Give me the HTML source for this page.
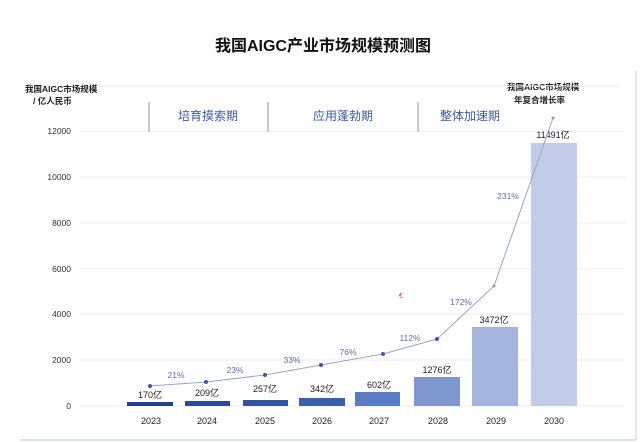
<!DOCTYPE html>
<html><head><meta charset="utf-8"><style>
body{margin:0;background:#fff;}
svg{display:block;font-family:"Liberation Sans","Noto Sans CJK SC",sans-serif;}
</style></head><body>
<svg width="640" height="442" viewBox="0 0 640 442">
<rect x="0" y="0" width="640" height="442" fill="#fff"/>
<line x1="636" y1="70" x2="636" y2="440" stroke="#e4e8f0" stroke-width="2"/>
<line x1="20" y1="440" x2="636" y2="440" stroke="#dde2ea" stroke-width="2"/>
<text x="323" y="51" font-size="16" font-weight="bold" text-anchor="middle" fill="#111">我国AIGC产业市场规模预测图</text>
<g font-size="8.5" font-weight="bold" fill="#222">
<text x="25" y="92">我国AIGC市场规模</text>
<text x="33" y="104">/ 亿人民币</text>
<text x="507" y="90">我国AIGC市场规模</text>
<text x="514" y="103">年复合增长率</text>
</g>
<g stroke="#eceef3" stroke-width="1">
<line x1="100" y1="86" x2="620" y2="86"/>
<line x1="80" y1="131" x2="625" y2="131"/>
<line x1="80" y1="177" x2="625" y2="177"/>
<line x1="80" y1="223" x2="625" y2="223"/>
<line x1="80" y1="269" x2="625" y2="269"/>
<line x1="80" y1="314" x2="625" y2="314"/>
<line x1="80" y1="360" x2="625" y2="360"/>
<line x1="80" y1="406" x2="625" y2="406"/>
</g>
<g stroke="#8a93a8" stroke-width="1">
<line x1="149" y1="102" x2="149" y2="132"/>
<line x1="268" y1="102" x2="268" y2="132"/>
<line x1="418" y1="102" x2="418" y2="132"/>
</g>
<g font-size="12" fill="#3d5a9c" text-anchor="middle">
<text x="208" y="120">培育摸索期</text>
<text x="343" y="120">应用蓬勃期</text>
<text x="470" y="120">整体加速期</text>
</g>
<g font-size="8.5" fill="#333" text-anchor="end">
<text x="71" y="134">12000</text>
<text x="71" y="180">10000</text>
<text x="71" y="226">8000</text>
<text x="71" y="272">6000</text>
<text x="71" y="317">4000</text>
<text x="71" y="363">2000</text>
<text x="71" y="409">0</text>
</g>
<g>
<rect x="127" y="402" width="46" height="4" fill="#263f8a"/>
<rect x="185" y="401" width="45" height="5" fill="#2a4a99"/>
<rect x="243" y="400" width="45" height="6" fill="#3053a3"/>
<rect x="299" y="398" width="46" height="8" fill="#3a5eae"/>
<rect x="355" y="392" width="45" height="14" fill="#5a7cc4"/>
<rect x="414" y="377" width="46" height="29" fill="#7e98cf"/>
<rect x="472" y="327" width="46" height="79" fill="#a4b5dd"/>
<rect x="531" y="143" width="46" height="263" fill="#c2cce8"/>
</g>
<g font-size="9" fill="#222" text-anchor="middle">
<text x="150" y="398">170亿</text>
<text x="207" y="396">209亿</text>
<text x="265" y="392">257亿</text>
<text x="322" y="392">342亿</text>
<text x="379" y="388">602亿</text>
<text x="437" y="373">1276亿</text>
<text x="494" y="323">3472亿</text>
<text x="553" y="138">11491亿</text>
</g>
<polyline points="150,386 206,382 265,375 321,365 383,354 437,339 494,286 553,118" fill="none" stroke="#9aa6c0" stroke-width="1"/>
<g fill="#3a5aa8">
<circle cx="150" cy="386" r="2"/><circle cx="206" cy="382" r="2"/><circle cx="265" cy="375" r="2"/><circle cx="321" cy="365" r="2"/><circle cx="383" cy="354" r="2"/><circle cx="437" cy="339" r="2"/><circle cx="494" cy="286" r="1.5" fill="#8a9bd0"/><circle cx="553" cy="118" r="1.5" fill="#8a9bd0"/>
</g>
<g font-size="8.5" fill="#5a70b0" text-anchor="middle">
<text x="176" y="378">21%</text>
<text x="235" y="373">23%</text>
<text x="292" y="363">33%</text>
<text x="348" y="355">76%</text>
<text x="410" y="341">112%</text>
<text x="461" y="305">172%</text>
<text x="508" y="199">231%</text>
</g>
<text x="399" y="298" font-size="7" fill="#d0304a">€</text>
<g font-size="9" fill="#222" text-anchor="middle">
<text x="151" y="424">2023</text>
<text x="207" y="424">2024</text>
<text x="265" y="424">2025</text>
<text x="322" y="424">2026</text>
<text x="379" y="424">2027</text>
<text x="438" y="424">2028</text>
<text x="496" y="424">2029</text>
<text x="554" y="424">2030</text>
</g>
</svg>
</body></html>
